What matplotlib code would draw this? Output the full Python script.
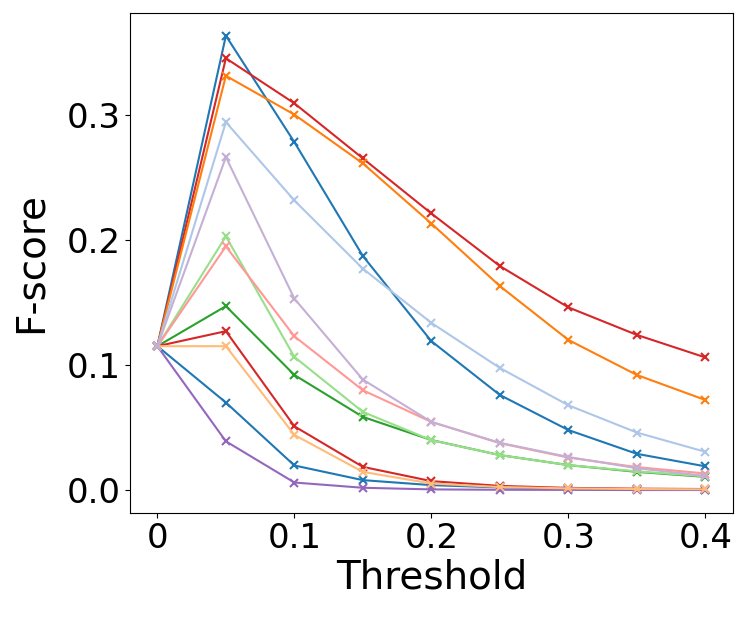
import matplotlib
matplotlib.use('agg')
import matplotlib.pyplot as plt

# thresholds on the x axis
thresholds = [0, 0.05, 0.1, 0.15, 0.2, 0.25, 0.3, 0.35, 0.4]
xtick_labels = ["0", "0.1", "0.2", "0.3", "0.4"]

# F-score curves
f_blue = [0.115, 0.363, 0.278, 0.187, 0.119, 0.076, 0.048, 0.029, 0.019]
f_red = [0.115, 0.345, 0.309, 0.265, 0.221, 0.179, 0.146, 0.124, 0.106]
f_orange = [0.115, 0.331, 0.300, 0.261, 0.213, 0.163, 0.120, 0.092, 0.072]
f_green = [0.115, 0.147, 0.092, 0.0585, 0.040, 0.028, 0.020, 0.0146, 0.0106]
f_red_low = [0.115, 0.127, 0.051, 0.0186, 0.0072, 0.0034, 0.0018, 0.0012, 0.0009]
f_blue_low = [0.115, 0.070, 0.0197, 0.008, 0.004, 0.0022, 0.0012, 0.0008, 0.0005]
f_purple = [0.115, 0.039, 0.0061, 0.0019, 0.0006, 0.0003, 0.0002, 0.0001, 0.0001]
f_lorange = [0.115, 0.115, 0.0441, 0.0146, 0.0053, 0.0025, 0.0014, 0.0009, 0.0007]
f_lgreen = [0.115, 0.2027, 0.1064, 0.0625, 0.0399, 0.028, 0.020, 0.015, 0.0110]
f_pink = [0.115, 0.1947, 0.1229, 0.0798, 0.0545, 0.0375, 0.026, 0.0184, 0.0133]
f_lblue = [0.115, 0.294, 0.2314, 0.1769, 0.1336, 0.0976, 0.0678, 0.046, 0.0306]
f_lpurple = [0.115, 0.266, 0.153, 0.0883, 0.0545, 0.0378, 0.0265, 0.0175, 0.0114]

series = [
    (f_blue, '#1f77b4'),
    (f_red, '#d62728'),
    (f_orange, '#ff7f0e'),
    (f_green, '#2ca02c'),
    (f_red_low, '#d62728'),
    (f_blue_low, '#1f77b4'),
    (f_purple, '#9467bd'),
    (f_lorange, '#ffbb78'),
    (f_lgreen, '#98df8a'),
    (f_pink, '#ff9896'),
    (f_lblue, '#aec7e8'),
    (f_lpurple, '#c5b0d5'),
]

fig = plt.figure(figsize=(7.47, 6.2), dpi=100)
ax = fig.add_axes([0.174, 0.173, 0.807, 0.806])

for vals, col in series:
    ax.plot(thresholds, vals, marker='x', color=col, linewidth=1.5,
            markeredgewidth=1.5)

ax.set_xticks([0, 0.1, 0.2, 0.3, 0.4])
ax.set_xticklabels(xtick_labels)
ax.set_yticks([0.0, 0.1, 0.2, 0.3])
ax.tick_params(labelsize=24.5)
ax.set_xlabel("Threshold", fontsize=28, labelpad=2)
ax.set_ylabel("F-score", fontsize=28, labelpad=12)

fig.savefig("out.png", dpi=100)
